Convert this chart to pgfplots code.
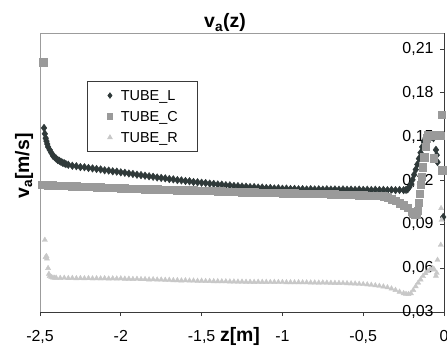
\documentclass[border=0pt]{standalone}
\usepackage{fontspec}
\setmainfont{Liberation Sans}
\usepackage{pgfplots}
\pgfplotsset{compat=1.18}
\definecolor{cL}{HTML}{2F3939}
\definecolor{cC}{HTML}{9A9A9A}
\definecolor{cR}{HTML}{C8C8C8}
\definecolor{framec}{HTML}{9C9C9C}
\definecolor{axisc}{HTML}{3A3A3A}
\begin{document}
\begin{tikzpicture}
\useasboundingbox (-40bp,-35bp) rectangle (407bp,312bp);
\draw[framec, line width=0.8bp] (0bp,0bp) -- (0bp,279bp) -- (404bp,279bp);
\begin{axis}[
 at={(0bp,0bp)}, anchor=south west,
 width=404bp, height=279bp, scale only axis,
 xmin=-2.5, xmax=0, ymin=0.03, ymax=0.221,
 axis x line*=bottom, axis y line*=right,
 axis line style={axisc, line width=0.8bp},
 xtick={-2.5,-2,-1.5,-1,-0.5,0},
 xticklabels={{-2,5},{-2},{-1,5},{-1},{-0,5},{0}},
 ytick={0.03,0.06,0.09,0.12,0.15,0.18,0.21},
 yticklabels={{0,03},{0,06},{0,09},{0,12},{0,15},{0,18},{0,21}},
 tick align=inside,
 major tick length=4bp,
 tick style={axisc, line width=0.8bp},
 xtick style={yshift=-4bp},
 xticklabel style={anchor=base, yshift=-29bp, font=\fontsize{16}{19}\selectfont},
 yticklabel pos=right,
 yticklabel style={anchor=east, xshift=-7bp, font=\fontsize{16}{19}\selectfont},
 clip=false,
 legend style={at={(axis description cs:0.116,0.828)}, anchor=north west,
   draw=axisc, line width=0.6bp, font=\fontsize{14.5}{17}\selectfont,
   inner xsep=20bp, inner ysep=9bp, row sep=10.5bp,
   nodes={text height=10.5bp, text depth=0bp, inner sep=0bp},
   /tikz/every odd column/.append style={column sep=8bp}},
 legend cell align=left,
 legend image code/.code={\draw[mark repeat=2,mark phase=2,#1,mark size=2.8bp] plot coordinates {(0bp,0bp)(3bp,0bp)(6bp,0bp)};},
]
\addplot[only marks, mark=diamond*, mark size=3.8bp, color=cL, mark options={draw=cL, fill=cL}] coordinates {
(-2.48,0.201)
(-2.475,0.156)(-2.47,0.152)(-2.465,0.149)(-2.46,0.147)(-2.455,0.145)(-2.45,0.143)(-2.44,0.141)(-2.43,0.139)(-2.42,0.137)(-2.41,0.136)(-2.40,0.135)(-2.39,0.134)(-2.38,0.1335)(-2.37,0.1328)(-2.36,0.1322)(-2.35,0.1318)(-2.34,0.1313)(-2.325,0.1308)(-2.3,0.1301)(-2.275,0.1298)(-2.25,0.1292)(-2.225,0.1291)(-2.2,0.1286)(-2.175,0.1283)(-2.15,0.1279)(-2.125,0.1276)(-2.1,0.1270)(-2.075,0.1268)(-2.05,0.1263)(-2.025,0.1261)(-2.0,0.1256)(-1.975,0.1253)(-1.95,0.1248)(-1.925,0.1245)(-1.9,0.1240)(-1.875,0.1237)(-1.85,0.1233)(-1.825,0.1229)(-1.8,0.1226)(-1.775,0.1221)(-1.75,0.1218)(-1.725,0.1215)(-1.7,0.1210)(-1.675,0.1208)(-1.65,0.1203)(-1.625,0.1201)(-1.6,0.1197)(-1.575,0.1195)(-1.55,0.1190)(-1.525,0.1188)(-1.5,0.1185)(-1.475,0.1183)(-1.45,0.1179)(-1.425,0.1177)(-1.4,0.1173)(-1.375,0.1172)(-1.35,0.1168)(-1.325,0.1167)(-1.3,0.1163)(-1.275,0.1162)(-1.25,0.1159)(-1.225,0.1158)(-1.2,0.1155)(-1.175,0.1155)(-1.15,0.1152)(-1.125,0.1152)(-1.1,0.1149)(-1.075,0.1149)(-1.05,0.1146)(-1.025,0.1147)(-1.0,0.1144)(-0.975,0.1145)(-0.95,0.1142)(-0.925,0.1143)(-0.9,0.1140)(-0.875,0.1141)(-0.85,0.1139)(-0.825,0.1141)(-0.8,0.1139)(-0.775,0.1140)(-0.75,0.1138)(-0.725,0.1140)(-0.7,0.1138)(-0.675,0.1139)(-0.65,0.1137)(-0.625,0.1139)(-0.6,0.1137)(-0.575,0.1138)(-0.55,0.1136)(-0.525,0.1138)(-0.5,0.1136)(-0.475,0.1137)(-0.45,0.1135)(-0.425,0.1137)(-0.4,0.1135)(-0.375,0.1136)(-0.35,0.1134)(-0.325,0.1136)(-0.3,0.1134)(-0.275,0.1135)(-0.25,0.1134)(-0.235,0.1136)(-0.225,0.1140)(-0.215,0.1155)(-0.205,0.1175)(-0.195,0.1205)(-0.185,0.1240)(-0.175,0.1275)(-0.165,0.1310)(-0.155,0.1350)(-0.145,0.1390)(-0.135,0.1430)(-0.125,0.1465)(-0.115,0.1490)(-0.105,0.1500)(-0.095,0.1505)(-0.085,0.1505)(-0.075,0.1500)(-0.065,0.1490)(-0.05,0.1410)(-0.045,0.1374)(-0.04,0.1326)(-0.005,0.095)
};
\addlegendentry{TUBE\_L}
\addplot[only marks, mark=square*, mark size=3.7bp, color=cC, mark options={draw=cC, fill=cC}] coordinates {
(-2.48,0.2010)
(-2.49,0.1170)(-2.475,0.1173)(-2.45,0.1168)(-2.425,0.1168)(-2.4,0.1165)(-2.375,0.1166)(-2.35,0.1163)(-2.325,0.1163)(-2.3,0.1160)(-2.275,0.1161)(-2.25,0.1158)(-2.225,0.1158)(-2.2,0.1156)(-2.175,0.1156)(-2.15,0.1154)(-2.125,0.1153)(-2.1,0.1152)(-2.075,0.1151)(-2.05,0.1150)(-2.025,0.1149)(-2.0,0.1148)(-1.975,0.1148)(-1.95,0.1146)(-1.925,0.1146)(-1.9,0.1144)(-1.875,0.1144)(-1.85,0.1142)(-1.825,0.1142)(-1.8,0.1140)(-1.775,0.1140)(-1.75,0.1139)(-1.725,0.1138)(-1.7,0.1137)(-1.675,0.1137)(-1.65,0.1135)(-1.625,0.1135)(-1.6,0.1134)(-1.575,0.1133)(-1.55,0.1133)(-1.525,0.1132)(-1.5,0.1131)(-1.475,0.1131)(-1.45,0.1129)(-1.425,0.1129)(-1.4,0.1127)(-1.375,0.1127)(-1.35,0.1125)(-1.325,0.1125)(-1.3,0.1123)(-1.275,0.1123)(-1.25,0.1121)(-1.225,0.1121)(-1.2,0.1120)(-1.175,0.1119)(-1.15,0.1118)(-1.125,0.1118)(-1.1,0.1117)(-1.075,0.1116)(-1.05,0.1115)(-1.025,0.1115)(-1.0,0.1114)(-0.975,0.1114)(-0.95,0.1112)(-0.925,0.1112)(-0.9,0.1111)(-0.875,0.1111)(-0.85,0.1110)(-0.825,0.1110)(-0.8,0.1109)(-0.775,0.1109)(-0.75,0.1108)(-0.725,0.1108)(-0.7,0.1107)(-0.675,0.1106)(-0.65,0.1105)(-0.625,0.1104)(-0.6,0.1103)(-0.575,0.1102)(-0.55,0.1101)(-0.525,0.1100)(-0.5,0.1099)(-0.475,0.1098)(-0.45,0.1097)(-0.425,0.1096)(-0.4,0.1095)(-0.375,0.1092)(-0.35,0.1085)(-0.325,0.1073)(-0.3,0.1060)(-0.275,0.1046)(-0.25,0.1030)(-0.225,0.1012)(-0.2,0.0988)(-0.19,0.0975)(-0.18,0.0965)(-0.17,0.0965)(-0.162,0.0995)(-0.156,0.1050)(-0.15,0.1110)(-0.144,0.1170)(-0.138,0.1225)(-0.13,0.1290)(-0.122,0.1360)(-0.115,0.1430)(-0.108,0.1490)(-0.1,0.1510)(-0.09,0.1510)(-0.08,0.1512)(-0.07,0.1510)(-0.06,0.1512)(-0.05,0.1510)(-0.04,0.1512)(-0.03,0.1510)(-0.02,0.1508)(-0.062,0.1353)(-0.015,0.1650)(-0.01,0.1270)
};
\addlegendentry{TUBE\_C}
\addplot[only marks, mark=triangle*, mark size=3bp, color=cR, mark options={draw=cR, fill=cR}] coordinates {
(-2.47,0.0793)(-2.465,0.0676)(-2.46,0.0682)(-2.457,0.0665)(-2.45,0.0600)(-2.445,0.0560)(-2.44,0.0545)(-2.43,0.0538)(-2.42,0.0535)(-2.41,0.0533)(-2.4,0.0534)(-2.375,0.0532)(-2.35,0.0533)(-2.325,0.0531)(-2.3,0.0532)(-2.275,0.0530)(-2.25,0.0531)(-2.225,0.0530)(-2.2,0.0531)(-2.175,0.0529)(-2.15,0.0530)(-2.125,0.0529)(-2.1,0.0530)(-2.075,0.0528)(-2.05,0.0529)(-2.025,0.0528)(-2.0,0.0529)(-1.975,0.0527)(-1.95,0.0527)(-1.925,0.0525)(-1.9,0.0526)(-1.875,0.0524)(-1.85,0.0524)(-1.825,0.0522)(-1.8,0.0523)(-1.775,0.0521)(-1.75,0.0521)(-1.725,0.0519)(-1.7,0.0519)(-1.675,0.0517)(-1.65,0.0517)(-1.625,0.0515)(-1.6,0.0516)(-1.575,0.0514)(-1.55,0.0514)(-1.525,0.0512)(-1.5,0.0513)(-1.475,0.0511)(-1.45,0.0511)(-1.425,0.0510)(-1.4,0.0510)(-1.375,0.0509)(-1.35,0.0509)(-1.325,0.0508)(-1.3,0.0508)(-1.275,0.0507)(-1.25,0.0507)(-1.225,0.0506)(-1.2,0.0506)(-1.175,0.0505)(-1.15,0.0506)(-1.125,0.0505)(-1.1,0.0505)(-1.075,0.0504)(-1.05,0.0505)(-1.025,0.0504)(-1.0,0.0504)(-0.975,0.0503)(-0.95,0.0503)(-0.925,0.0502)(-0.9,0.0503)(-0.875,0.0502)(-0.85,0.0502)(-0.825,0.0501)(-0.8,0.0501)(-0.775,0.0500)(-0.75,0.0501)(-0.725,0.0500)(-0.7,0.0499)(-0.675,0.0498)(-0.65,0.0498)(-0.625,0.0497)(-0.6,0.0496)(-0.575,0.0495)(-0.55,0.0494)(-0.525,0.0492)(-0.5,0.0490)(-0.475,0.0488)(-0.45,0.0485)(-0.425,0.0482)(-0.4,0.0478)(-0.375,0.0474)(-0.35,0.0468)(-0.325,0.0460)(-0.3,0.0450)(-0.275,0.0438)(-0.25,0.0428)(-0.235,0.0423)(-0.22,0.0422)(-0.205,0.0428)(-0.19,0.0450)(-0.175,0.0475)(-0.16,0.0500)(-0.145,0.0522)(-0.13,0.0545)(-0.115,0.0565)(-0.1,0.0580)(-0.085,0.0592)(-0.07,0.0600)(-0.06,0.0590)(-0.05,0.0547)(-0.045,0.0567)(-0.04,0.0656)(-0.02,0.0759)(-0.015,0.0930)(-0.018,0.1010)
};
\addlegendentry{TUBE\_R}
\end{axis}
\node[anchor=base, font=\fontsize{19.5}{23}\selectfont\bfseries] at (185bp,284bp) {v\textsubscript{a}(z)};
\node[anchor=base, font=\fontsize{19.5}{23}\selectfont\bfseries] at (200bp,-29bp) {z[m]};
\node[rotate=90, anchor=center, font=\fontsize{19.5}{23}\selectfont\bfseries] at (-16bp,146bp) {v\textsubscript{a}[m/s]};
\end{tikzpicture}
\end{document}
